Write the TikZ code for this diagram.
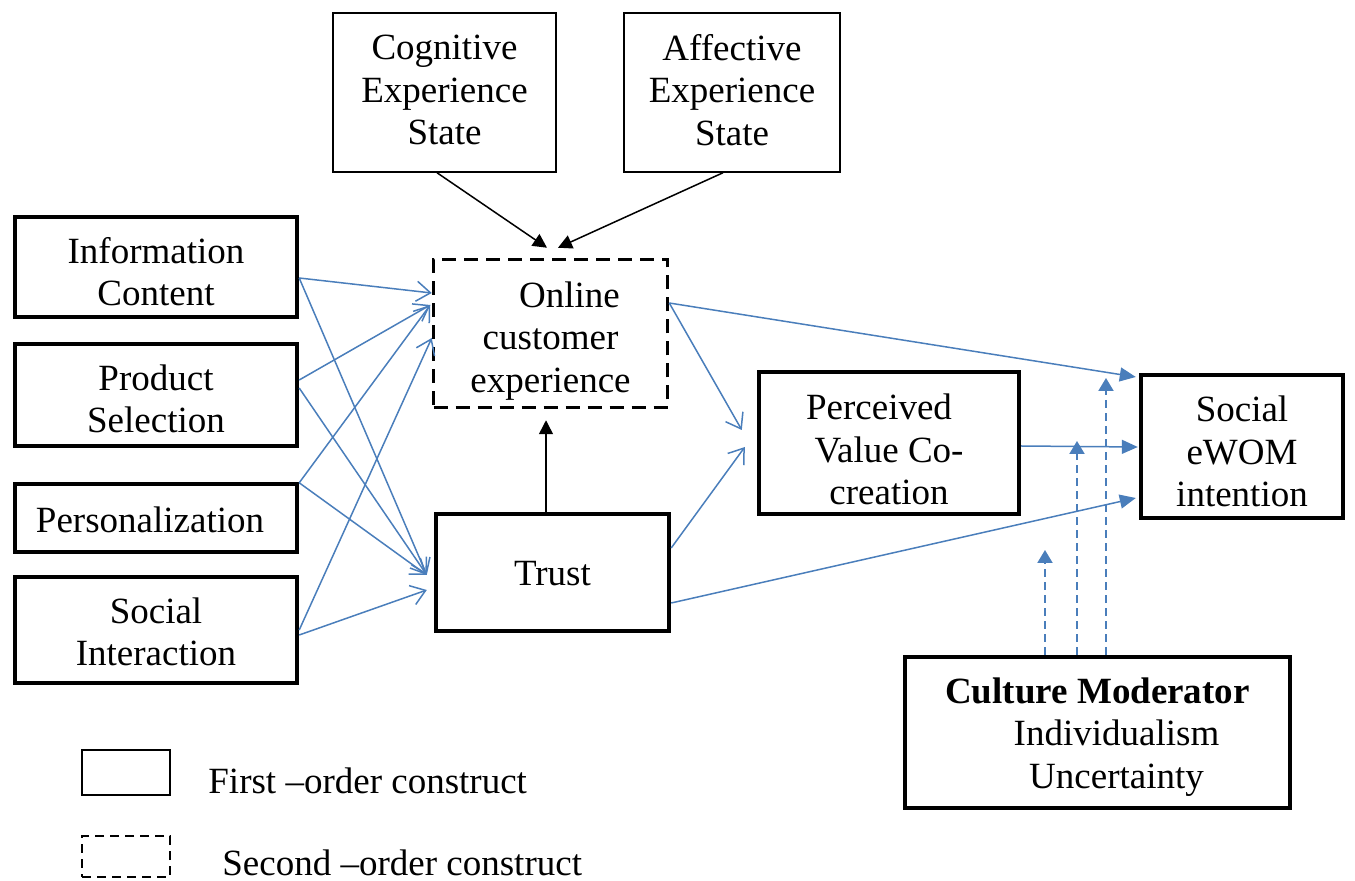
\documentclass[tikz,border=0pt]{standalone}
\usepackage{fontspec}
\setmainfont{Liberation Serif}
\usetikzlibrary{arrows.meta}
\definecolor{linkblue}{RGB}{74,126,187}

\begin{document}
\begin{tikzpicture}[x=0.5pt,y=-0.5pt,
  every node/.style={font=\fontsize{18.5pt}{21.2pt}\selectfont, inner sep=0pt, align=center},
  thickbox/.style={draw, line width=2.2pt},
  thinbox/.style={draw, line width=0.75pt},
  dashbox/.style={draw, line width=1.75pt, dash pattern=on 7pt off 4pt},
  legdash/.style={draw, line width=0.6pt, dash pattern=on 4.5pt off 3pt},
  openlink/.style={linkblue, line width=0.75pt, -{Straight Barb[length=7pt,width=10pt]}},
  solidlink/.style={linkblue, line width=0.75pt, -{Triangle[length=8pt,width=7pt]}},
  modlink/.style={linkblue, line width=1pt, dash pattern=on 4pt off 2.5pt, -{Triangle[length=6.5pt,width=7.5pt]}},
  blacklink/.style={black, line width=0.75pt, -{Triangle[length=7pt,width=7pt]}}]

\useasboundingbox (0,0) rectangle (1355,881);

% experience states
\node[thinbox, minimum width=111.5pt, minimum height=79.5pt] (cog) at (444.5,92.5) {};
\node (cog-t) at (444.5,90) {Cognitive\\Experience\\State};
\node[thinbox, minimum width=108pt, minimum height=79.5pt] (aff) at (732,92.5) {};
\node (aff-t) at (732,90) {Affective\\Experience\\State};

% antecedents
\node[thickbox, minimum width=141pt, minimum height=50pt] (info) at (156,267) {};
\node (info-t) at (156,271.5) {Information\\Content};
\node[thickbox, minimum width=141pt, minimum height=51pt] (prod) at (156,395) {};
\node (prod-t) at (156,399) {Product\\Selection};
\node[thickbox, minimum width=141pt, minimum height=34pt] (pers) at (156,518) {};
\node (pers-t) at (150,520) {Personalization};
\node[thickbox, minimum width=141pt, minimum height=53pt] (soci) at (156,630) {};
\node (soci-t) at (156,632) {Social\\Interaction};

% central constructs
\node[dashbox, minimum width=117pt, minimum height=74pt] (onl) at (550.5,333.5) {};
\node (onl-t) at (550.5,341) {\hspace*{19pt}Online\\customer\\experience};
\node[thickbox, minimum width=116.5pt, minimum height=58.5pt] (trust) at (552.5,572.5) {};
\node (trust-t) at (552.5,573.5) {Trust};
\node[thickbox, minimum width=130pt, minimum height=71pt] (pvc) at (889,443) {};
\node (pvc-t) at (889,449.5) {Perceived\hspace*{10pt}\\Value Co-\\creation};
\node[thickbox, minimum width=101pt, minimum height=71.5pt] (ewom) at (1242,446.5) {};
\node (ewom-t) at (1242,451.5) {Social\\eWOM\\intention};

% moderator
\node[thickbox, minimum width=192.5pt, minimum height=75.5pt] (cult) at (1097.5,732.5) {};
\node (cult-t) at (1097.5,737)
  {\textbf{Culture Moderator}\\\hspace*{19pt}Individualism\\\hspace*{19pt}Uncertainty};

% legend
\node[thinbox, minimum width=44pt, minimum height=22.5pt] (legA) at (126,772.5) {};
\node[legdash, minimum width=44pt, minimum height=20.5pt] (legB) at (126,856.5) {};
\node[anchor=base west] (legAt) at (208,793) {First –order construct};
\node[anchor=base west] (legBt) at (222,875) {Second –order construct};

% experience states into online customer experience
\draw[blacklink] ([xshift=-3.75pt]cog.south) -- ([xshift=-1.75pt,yshift=5pt]onl.north);
\draw[blacklink] ([xshift=-4.5pt]aff.south) -- ([xshift=3.75pt,yshift=5pt]onl.north);
\draw[blacklink] ([xshift=-3.25pt]trust.north) -- ([xshift=-2.25pt,yshift=-5.5pt]onl.south);

% antecedents into online customer experience
\draw[openlink] ([yshift=-5.5pt]info.east) -- ([yshift=20.25pt]onl.west);
\draw[openlink] ([yshift=7.5pt]prod.east) -- ([xshift=-0.75pt,yshift=14.25pt]onl.west);
\draw[openlink] ([yshift=-0.5pt]pers.north east) -- ([xshift=-0.75pt,yshift=14.25pt]onl.west);
\draw[openlink] (soci.east) -- ([yshift=-2.25pt]onl.west);

% antecedents into trust
\draw[openlink] ([yshift=-5.5pt]info.east) -- ([xshift=-3.5pt,yshift=-1.25pt]trust.west);
\draw[openlink] ([yshift=3.5pt]prod.east) -- ([xshift=-3.5pt,yshift=-1.25pt]trust.west);
\draw[openlink] ([yshift=-0.5pt]pers.north east) -- ([xshift=-3.5pt,yshift=-1.25pt]trust.west);
\draw[openlink] ([yshift=-2.5pt]soci.east) -- ([xshift=-3.5pt,yshift=-8.75pt]trust.west);

% into perceived value co-creation
\draw[openlink] ([yshift=15.25pt]onl.east) -- ([xshift=-7.5pt,yshift=6.5pt]pvc.west);
\draw[openlink] ([yshift=12.25pt]trust.east) -- ([xshift=-6pt,yshift=-2pt]pvc.west);

% into social eWOM intention
\draw[solidlink] ([yshift=15.25pt]onl.east) -- ([xshift=-1.5pt,yshift=34.75pt]ewom.west);
\draw[solidlink] ([yshift=-1.5pt]pvc.east) -- ([xshift=-0.5pt,yshift=-0.25pt]ewom.west);
\draw[solidlink] ([yshift=-15.25pt]trust.east) -- ([xshift=-1.5pt,yshift=-25.75pt]ewom.west);

% moderating effects
\coordinate (m1) at (1045,550);
\coordinate (m2) at (1077,441);
\coordinate (m3) at (1106,378);
\draw[modlink] ([xshift=-26.25pt]cult.north) -- (m1);
\draw[modlink] ([xshift=-10.25pt]cult.north) -- (m2);
\draw[modlink] ([xshift=4.25pt]cult.north) -- (m3);

\end{tikzpicture}
\end{document}
